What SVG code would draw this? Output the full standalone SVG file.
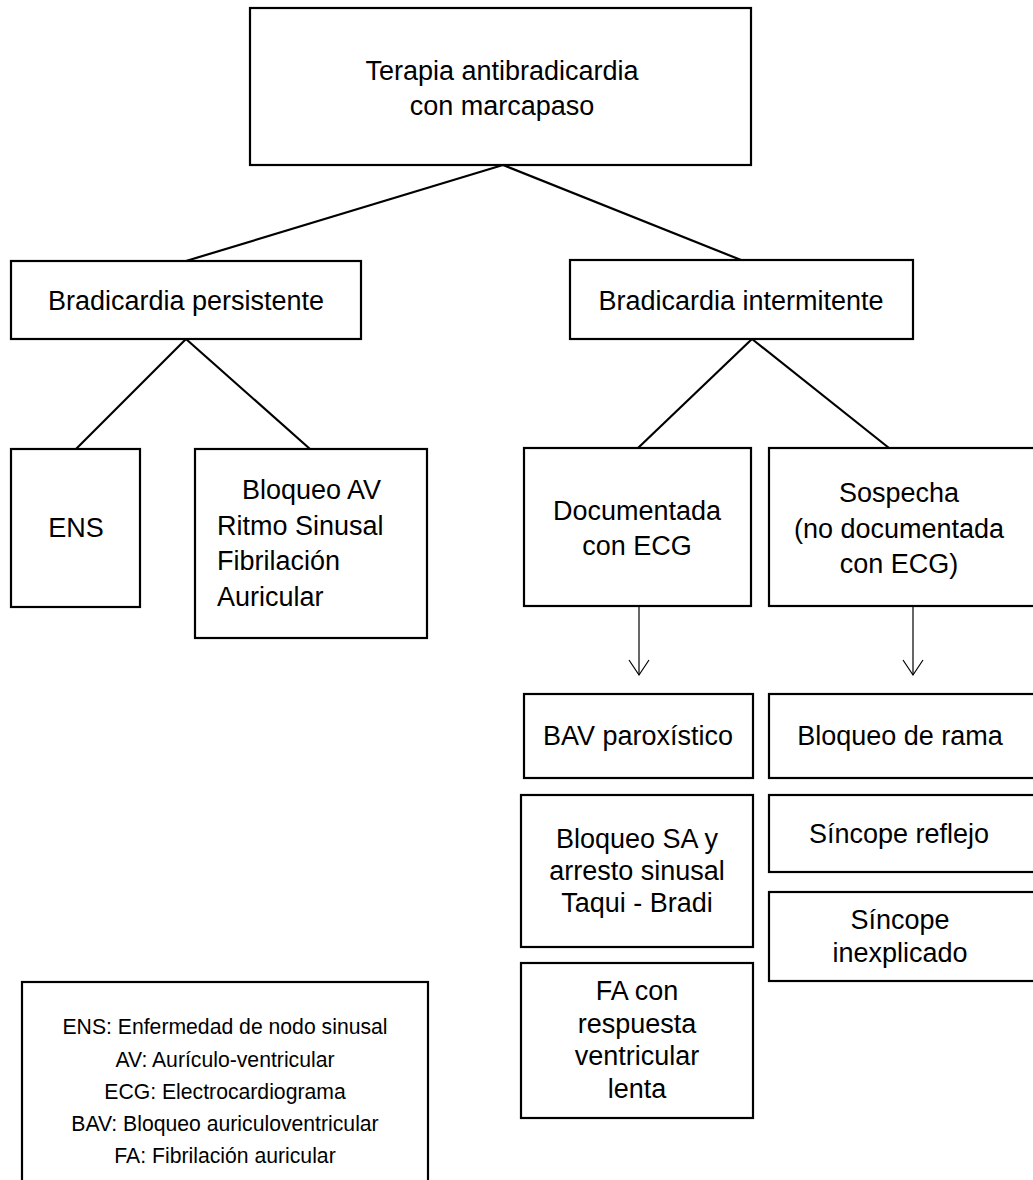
<svg xmlns="http://www.w3.org/2000/svg" width="1033" height="1180" viewBox="0 0 1033 1180">
<defs>
<style>
.box{fill:#fff;stroke:#000;stroke-width:2.2}
.t{font-family:"Liberation Sans",Arial,sans-serif;font-size:27px;fill:#000;text-anchor:middle}
.l{font-family:"Liberation Sans",Arial,sans-serif;font-size:21.2px;fill:#000;text-anchor:middle}
.tl{text-anchor:start}
.c{stroke:#000;stroke-width:2.2;fill:none}
.a{stroke:#000;stroke-width:1.2;fill:none}
</style>
<marker id="arr" markerWidth="20" markerHeight="24" refX="16" refY="11" orient="auto" markerUnits="userSpaceOnUse" viewBox="0 0 20 24">
<polyline points="1,1 16,11 1,21" fill="none" stroke="#000" stroke-width="1.2"/>
</marker>
</defs>
<rect width="1033" height="1180" fill="#fff"/>
<g id="connectors">
<line class="c" x1="503" y1="165" x2="186" y2="261"/>
<line class="c" x1="503" y1="165" x2="741" y2="260"/>
<line class="c" x1="186" y1="339" x2="76" y2="449"/>
<line class="c" x1="186" y1="339" x2="310" y2="449"/>
<line class="c" x1="752" y1="339" x2="638" y2="448"/>
<line class="c" x1="752" y1="339" x2="889" y2="448"/>
<line class="a" x1="639" y1="606" x2="639" y2="675" marker-end="url(#arr)"/>
<line class="a" x1="913" y1="606" x2="913" y2="675" marker-end="url(#arr)"/>
</g>
<g id="root">
<rect class="box" x="250" y="8" width="501" height="157"/>
<text class="t" x="502" y="80">Terapia antibradicardia</text>
<text class="t" x="502" y="115">con marcapaso</text>
</g>
<g id="persistente">
<rect class="box" x="11" y="261" width="350" height="78"/>
<text class="t" x="186" y="310">Bradicardia persistente</text>
</g>
<g id="intermitente">
<rect class="box" x="570" y="260" width="343" height="79"/>
<text class="t" x="741" y="310">Bradicardia intermitente</text>
</g>
<g id="ens">
<rect class="box" x="11" y="449" width="129" height="158"/>
<text class="t" x="76" y="537">ENS</text>
</g>
<g id="bloqueo-av">
<rect class="box" x="195" y="449" width="232" height="189"/>
<text class="t tl" x="242" y="499">Bloqueo AV</text>
<text class="t tl" x="217" y="535">Ritmo Sinusal</text>
<text class="t tl" x="217" y="570">Fibrilación</text>
<text class="t tl" x="217" y="606">Auricular</text>
</g>
<g id="documentada">
<rect class="box" x="524" y="448" width="227" height="158"/>
<text class="t" x="637" y="520">Documentada</text>
<text class="t" x="637" y="555">con ECG</text>
</g>
<g id="sospecha">
<rect class="box" x="769" y="448" width="275" height="158"/>
<text class="t" x="899" y="502">Sospecha</text>
<text class="t" x="899" y="538">(no documentada</text>
<text class="t" x="899" y="573">con ECG)</text>
</g>
<g id="bav">
<rect class="box" x="524" y="694" width="229" height="84"/>
<text class="t" x="638" y="745">BAV paroxístico</text>
</g>
<g id="rama">
<rect class="box" x="769" y="694" width="275" height="84"/>
<text class="t" x="900" y="745">Bloqueo de rama</text>
</g>
<g id="bloqueo-sa">
<rect class="box" x="521" y="795" width="232" height="152"/>
<text class="t" x="637" y="848">Bloqueo SA y</text>
<text class="t" x="637" y="880">arresto sinusal</text>
<text class="t" x="637" y="912">Taqui - Bradi</text>
</g>
<g id="reflejo">
<rect class="box" x="769" y="795" width="275" height="77"/>
<text class="t" x="899" y="843">Síncope reflejo</text>
</g>
<g id="inexplicado">
<rect class="box" x="769" y="892" width="275" height="89"/>
<text class="t" x="900" y="929">Síncope</text>
<text class="t" x="900" y="962">inexplicado</text>
</g>
<g id="fa">
<rect class="box" x="521" y="963" width="232" height="155"/>
<text class="t" x="637" y="1000">FA con</text>
<text class="t" x="637" y="1033">respuesta</text>
<text class="t" x="637" y="1065">ventricular</text>
<text class="t" x="637" y="1098">lenta</text>
</g>
<g id="legend">
<rect class="box" x="22" y="982" width="406" height="220"/>
<text class="l" x="225" y="1034">ENS: Enfermedad de nodo sinusal</text>
<text class="l" x="225" y="1067">AV: Aurículo-ventricular</text>
<text class="l" x="225" y="1099">ECG: Electrocardiograma</text>
<text class="l" x="225" y="1131">BAV: Bloqueo auriculoventricular</text>
<text class="l" x="225" y="1163">FA: Fibrilación auricular</text>
</g>
</svg>
